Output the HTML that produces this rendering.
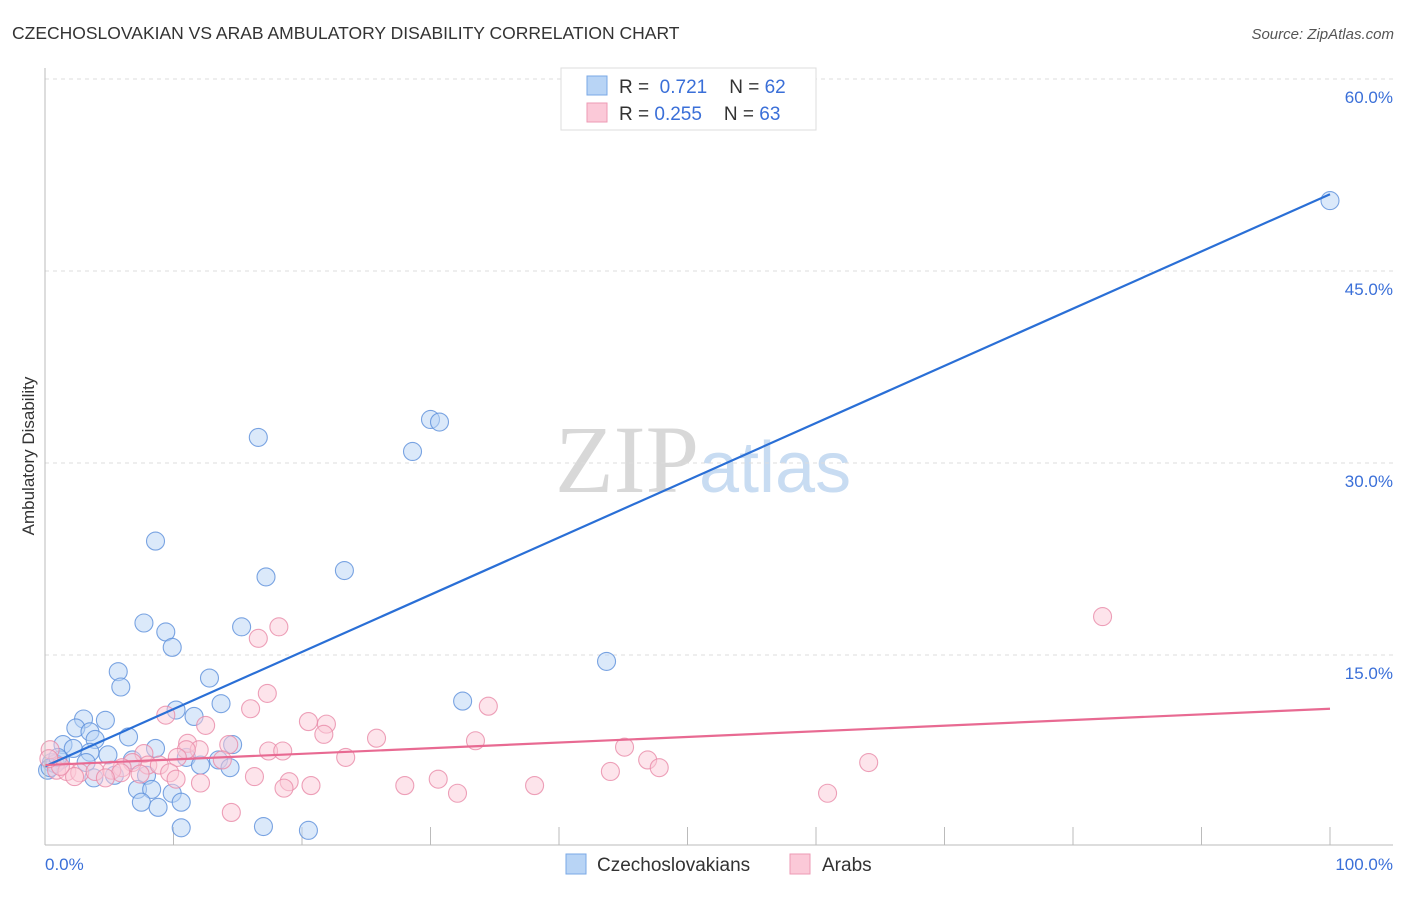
<!DOCTYPE html>
<html><head><meta charset="utf-8"><style>
body{margin:0;background:#fff;font-family:"Liberation Sans",sans-serif;}
svg text{font-family:"Liberation Sans",sans-serif;}
</style></head><body>
<svg id="chart" width="1406" height="892" xmlns="http://www.w3.org/2000/svg">
<text x="12" y="39" font-size="17.5" fill="#333">CZECHOSLOVAKIAN VS ARAB AMBULATORY DISABILITY CORRELATION CHART</text>
<text x="1394" y="39" font-size="15" fill="#555" font-style="italic" text-anchor="end">Source: ZipAtlas.com</text>
<text x="555" y="492" font-size="96" fill="#ddd" font-family="Liberation Serif"><tspan fill="#d8d8d8" font-family="Liberation Serif">ZIP</tspan><tspan fill="#c8dcf2" font-family="Liberation Sans" font-size="72">atlas</tspan></text>
<text transform="translate(34,456) rotate(-90)" font-size="17" fill="#333" text-anchor="middle">Ambulatory Disability</text>
<g id="grid"></g><g id="pts"></g><g id="lines"></g>
<line x1="45" y1="68" x2="45" y2="845" stroke="#bbb"/>
<line x1="45" y1="845" x2="1393" y2="845" stroke="#bbb"/>
<text x="45" y="870" font-size="17" fill="#3a6fd8">0.0%</text>
<text x="1393" y="870" font-size="17" fill="#3a6fd8" text-anchor="end">100.0%</text>
<g>
<rect x="561" y="68" width="255" height="62" fill="#fff" stroke="#ddd"/>
<rect x="587" y="76" width="20" height="19" fill="#b8d4f5" stroke="#7aa8e6"/>
<rect x="587" y="103" width="20" height="19" fill="#fbc9d8" stroke="#ee9ab4"/>
<text x="619" y="93" font-size="19" fill="#333">R = <tspan fill="#3a6fd8">&#160;0.721</tspan><tspan dx="22">N = </tspan><tspan fill="#3a6fd8">62</tspan></text>
<text x="619" y="120" font-size="19" fill="#333">R = <tspan fill="#3a6fd8">0.255</tspan><tspan dx="22">N = </tspan><tspan fill="#3a6fd8">63</tspan></text>
</g>
<g>
<rect x="566" y="854" width="20" height="20" fill="#b8d4f5" stroke="#7aa8e6"/>
<text x="597" y="871" font-size="19" fill="#333">Czechoslovakians</text>
<rect x="790" y="854" width="20" height="20" fill="#fbc9d8" stroke="#ee9ab4"/>
<text x="822" y="871" font-size="19" fill="#333">Arabs</text>
</g>
</svg>
<script>
const yTicks=[15,30,45,60];
const xTicks=[10,20,30,40,50,60,70,80,90,100];
const blueX=[100,30.0,30.7,28.6,16.6,8.6,17.2,23.3,7.7,9.4,15.3,9.9,43.7,5.7,5.9,12.8,32.5,10.2,13.7,11.6,3.0,4.7,2.4,3.5,6.5,3.9,8.6,14.6,1.4,2.2,3.5,4.9,11.0,13.5,1.2,0.5,3.2,6.8,12.1,14.4,7.9,3.8,5.4,0.2,7.2,8.3,9.9,7.5,10.6,8.8,10.6,17.0,20.5,0.8,0.4,1.0];
const blueY=[50.5,33.4,33.2,30.9,32.0,23.9,21.1,21.6,17.5,16.8,17.2,15.6,14.5,13.7,12.5,13.2,11.4,10.7,11.2,10.2,10.0,9.9,9.3,9.0,8.6,8.4,7.7,8.0,8.0,7.7,7.4,7.2,7.0,6.8,6.8,6.6,6.6,6.8,6.4,6.2,5.6,5.4,5.6,6.0,4.5,4.5,4.2,3.5,3.5,3.1,1.5,1.6,1.3,6.5,6.2,7.0];
const pinkX=[82.3,18.2,16.6,17.3,16.0,34.5,9.4,12.5,20.5,21.9,21.7,25.8,33.5,11.1,12.0,11.0,14.3,17.4,18.5,45.1,7.7,0.4,23.4,10.3,46.9,64.1,47.8,44.0,8.0,8.9,6.8,6.0,0.9,1.7,2.7,3.9,5.2,5.9,7.4,9.7,13.8,16.3,10.2,4.7,2.3,30.6,19.0,20.7,18.6,12.1,28.0,38.1,32.1,60.9,14.5,1.2,0.3];
const pinkY=[18.0,17.2,16.3,12.0,10.8,11.0,10.3,9.5,9.8,9.6,8.8,8.5,8.3,8.1,7.6,7.6,8.0,7.5,7.5,7.8,7.3,7.6,7.0,7.0,6.8,6.6,6.2,5.9,6.4,6.4,6.6,6.2,6.0,5.9,5.8,5.9,6.0,5.8,5.7,5.8,6.8,5.5,5.3,5.4,5.5,5.3,5.1,4.8,4.6,5.0,4.8,4.8,4.2,4.2,2.7,6.3,6.9];
const blueTrend=[6.3,51.0];
const pinkTrend=[6.4,10.8];
const NS='http://www.w3.org/2000/svg';
const sx=v=>45+v*12.85, sy=v=>847-v*12.8;
function mk(t,a,p){const e=document.createElementNS(NS,t);for(const k in a)e.setAttribute(k,a[k]);p.appendChild(e);return e;}
const grid=document.getElementById('grid');
yTicks.forEach(t=>{
 const l=mk('line',{x1:45,x2:1393,y1:sy(t),y2:sy(t),stroke:'#ddd','stroke-dasharray':'4,4'},grid);
 
 
 const tx=mk('text',{x:1393,y:sy(t)+24,'font-size':17,fill:'#3a6fd8','text-anchor':'end'},grid);
 tx.textContent=t.toFixed(1)+'%';
 
 
});
xTicks.forEach(t=>{
 const l=mk('line',{x1:sx(t),x2:sx(t),y1:827,y2:845,stroke:'#bbb'},grid);
 
 
});
const pts=document.getElementById('pts');
function dots(X,Y,f,s,n){X.forEach((x,i)=>{
 const c=mk('circle',{cx:sx(x),cy:sy(Y[i]),r:9,fill:f,'fill-opacity':0.5,stroke:s,'stroke-opacity':0.8,'stroke-width':1.1},pts);
 
 
});}
dots(blueX,blueY,'#b8d4f5','#5b8fdb','czechoslovakian-point');
dots(pinkX,pinkY,'#fbc9d8','#e88aa8','arab-point');
const lines=document.getElementById('lines');
const b=mk('line',{x1:sx(0),y1:sy(blueTrend[0]),x2:sx(100),y2:sy(blueTrend[1]),stroke:'#2a6fd6','stroke-width':2.2},lines);


const p=mk('line',{x1:sx(0),y1:sy(pinkTrend[0]),x2:sx(100),y2:sy(pinkTrend[1]),stroke:'#e86a92','stroke-width':2.2},lines);


</script>
</body></html>
